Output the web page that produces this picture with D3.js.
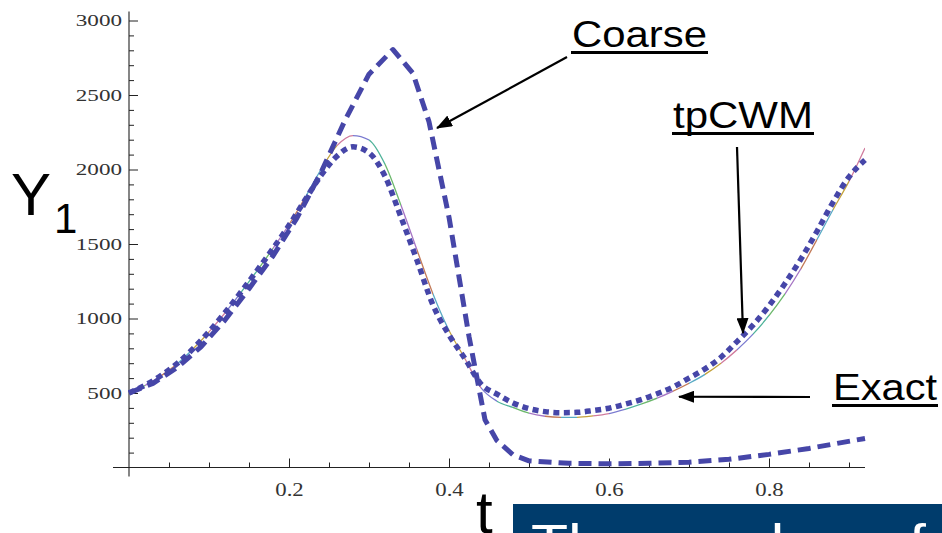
<!DOCTYPE html>
<html>
<head>
<meta charset="utf-8">
<script src="https://cdn.jsdelivr.net/npm/d3@7"></script>
<style>
  html, body { margin: 0; padding: 0; background: #fff; overflow: hidden; }
  svg { display: block; }
</style>
</head>
<body>
<svg id="chart" width="942" height="533"></svg>
<script>
// Sample times for the smooth solutions
const tGrid = [0.00,0.02,0.04,0.06,0.08,0.10,0.12,0.14,0.16,0.18,0.20,0.22,0.24,0.26,0.28,0.30,0.32,0.34,0.36,0.38,0.40,0.42,0.44,0.46,0.48,0.50,0.52,0.54,0.56,0.58,0.60,0.62,0.64,0.66,0.68,0.70,0.72,0.74,0.76,0.78,0.80,0.82,0.84,0.86,0.88,0.90,0.92];

// Exact solution Y1(t)
const exactY = [500,550,615,695,795,910,1037,1175,1320,1470,1630,1810,2000,2160,2228,2198,2035,1760,1460,1165,920,730,535,445,403,365,344,337,337,346,362,390,425,465,512,565,625,700,790,895,1020,1165,1335,1530,1730,1920,2144];

// tpCWM approximation
const tpcwmY = [500,552,617,697,797,912,1040,1178,1322,1470,1625,1795,1960,2090,2152,2112,1955,1680,1390,1090,890,730,560,492,433,395,375,368,370,382,398,425,455,495,540,600,662,740,845,955,1085,1235,1400,1585,1780,1950,2064];

// Coarse solution, at its own (uneven) time steps
const coarseT = [0.00,0.03,0.06,0.09,0.12,0.15,0.18,0.21,0.24,0.27,0.30,0.33,0.355,0.375,0.40,0.425,0.445,0.46,0.48,0.50,0.55,0.60,0.65,0.70,0.75,0.80,0.85,0.92];
const coarseY = [500,565,670,810,990,1200,1420,1675,1980,2330,2640,2805,2645,2320,1680,880,320,180,85,45,28,25,28,35,55,88,128,195];

// Axis ticks
const xMajor = [0.2,0.4,0.6,0.8];
const xMinor = [0.05,0.1,0.15,0.25,0.3,0.35,0.45,0.5,0.55,0.65,0.7,0.75,0.85,0.9];
const yMajor = [500,1000,1500,2000,2500,3000];
const yMinor = [100,200,300,400,600,700,800,900,1100,1200,1300,1400,1600,1700,1800,1900,2100,2200,2300,2400,2600,2700,2800,2900];

// Colours of the successive pieces of the exact curve
const pieceColors = ["#6cb86c","#a675c4","#c27a58","#58aac4","#c4a23c","#d07a9c","#7a7ad0","#4fb39a"];

// Annotations: label, arrow tip (t, Y1)
const labels = ["Coarse","tpCWM","Exact"];
const arrowTips = [[0.385,2278],[0.7675,902],[0.6875,475]];

const blue = "#4646a8";
const svg = d3.select("#chart");

const x = d3.scaleLinear().domain([0, 0.92]).range([129, 865]);
const y = d3.scaleLinear().domain([0, 3000]).range([467.5, 20.5]);

// ---- axes ----
const axisG = svg.append("g").attr("class","axes");
// axis lines, crossing at the origin and slightly overshooting it
axisG.append("line")
  .attr("x1", x(-0.02)).attr("x2", x(0.92))
  .attr("y1", y(0)).attr("y2", y(0))
  .attr("stroke","#222").attr("stroke-width",1.1);
axisG.append("line")
  .attr("x1", x(0)).attr("x2", x(0))
  .attr("y1", y(-60)).attr("y2", y(3060))
  .attr("stroke","#222").attr("stroke-width",1.1);

const xAxisMajor = d3.axisBottom(x).tickValues(xMajor).tickSize(-9).tickPadding(15)
  .tickFormat(d3.format(".1f"));
const xAxisMinor = d3.axisBottom(x).tickValues(xMinor).tickSize(-5).tickFormat("");
const yAxisMajor = d3.axisLeft(y).tickValues(yMajor).tickSize(-9).tickPadding(7)
  .tickFormat(d3.format("d"));
const yAxisMinor = d3.axisLeft(y).tickValues(yMinor).tickSize(-5).tickFormat("");

function styleAxis(g) {
  g.select(".domain").remove();
  g.selectAll(".tick line").attr("stroke","#222").attr("stroke-width",1);
  g.selectAll(".tick text")
    .attr("fill","#333")
    .style("font-family","'Liberation Serif', 'Times New Roman', serif");
}

const gx = axisG.append("g").attr("transform",`translate(0,${y(0)})`).call(xAxisMajor).call(styleAxis);
gx.selectAll(".tick text").style("font-size","19px").attr("transform","scale(1.2,1)");
axisG.append("g").attr("transform",`translate(0,${y(0)})`).call(xAxisMinor).call(styleAxis);

const gy = axisG.append("g").attr("transform",`translate(${x(0)},0)`).call(yAxisMajor).call(styleAxis);
gy.selectAll(".tick text").style("font-size","17px")
  .attr("x", -7/1.36).attr("transform","scale(1.36,1)");
axisG.append("g").attr("transform",`translate(${x(0)},0)`).call(yAxisMinor).call(styleAxis);

// ---- curves ----
const exactData = tGrid.map((t,i) => [t, exactY[i]]);
const tpcwmData = tGrid.map((t,i) => [t, tpcwmY[i]]);
const coarseData = coarseT.map((t,i) => [t, coarseY[i]]);

const smooth = d3.line().x(d => x(d[0])).y(d => y(d[1])).curve(d3.curveMonotoneX);
const poly = d3.line().x(d => x(d[0])).y(d => y(d[1])).curve(d3.curveLinear);

// exact curve: thin line drawn piece by piece in cycling colours
const defs = svg.append("defs");
const exactG = svg.append("g");
for (let i = 0; i < tGrid.length - 1; i++) {
  const id = "piece" + i;
  defs.append("clipPath").attr("id", id).append("rect")
    .attr("x", x(tGrid[i])).attr("width", x(tGrid[i+1]) - x(tGrid[i]))
    .attr("y", 0).attr("height", 533);
  exactG.append("path")
    .attr("d", smooth(exactData))
    .attr("clip-path", `url(#${id})`)
    .attr("fill","none")
    .attr("stroke", pieceColors[i % pieceColors.length])
    .attr("stroke-width", 1.3);
}

// coarse: long dashes
svg.append("path")
  .attr("d", poly(coarseData))
  .attr("fill","none").attr("stroke", blue)
  .attr("stroke-width", 5).attr("stroke-dasharray","13,7")
  .attr("stroke-linejoin","round");

// tpCWM: short dashes
svg.append("path")
  .attr("d", smooth(tpcwmData))
  .attr("fill","none").attr("stroke", blue)
  .attr("stroke-width", 5.5).attr("stroke-dasharray","6,4.5");

// ---- axis titles ----
const sans = "'Liberation Sans', Arial, Helvetica, sans-serif";
svg.append("text").attr("x", 11).attr("y", 215)
  .style("font-family", sans).style("font-size","60px").attr("fill","#000").text("Y");
svg.append("text").attr("x", 54).attr("y", 233)
  .style("font-family", sans).style("font-size","42px").attr("fill","#000").text("1");
svg.append("text").attr("x", 476).attr("y", 533)
  .style("font-family", sans).style("font-size","60px").attr("fill","#000").text("t");

// ---- annotations ----
defs.append("marker").attr("id","head")
  .attr("viewBox","0 0 16 12").attr("refX",15).attr("refY",6)
  .attr("markerWidth",16).attr("markerHeight",12)
  .attr("markerUnits","userSpaceOnUse").attr("orient","auto")
  .append("path").attr("d","M0,0 L16,6 L0,12 Z").attr("fill","#000");

const labelBoxes = [
  {x: 572, base: 47, len: 135, from: [567, 57]},
  {x: 673, base: 128, len: 140, from: [737, 147]},
  {x: 833, base: 400, len: 104, from: [810, 397]}
];
labels.forEach((name, i) => {
  const b = labelBoxes[i];
  svg.append("text").attr("x", b.x).attr("y", b.base)
    .attr("textLength", b.len).attr("lengthAdjust","spacingAndGlyphs")
    .style("font-family", sans).style("font-size","37px").attr("fill","#000").text(name);
  svg.append("line").attr("x1", b.x - 1).attr("x2", b.x + b.len + 1)
    .attr("y1", b.base + 5.5).attr("y2", b.base + 5.5)
    .attr("stroke","#000").attr("stroke-width",3);
  const tip = arrowTips[i];
  svg.append("line")
    .attr("x1", b.from[0]).attr("y1", b.from[1])
    .attr("x2", x(tip[0])).attr("y2", y(tip[1]))
    .attr("stroke","#000").attr("stroke-width",2.2)
    .attr("marker-end","url(#head)");
});

// ---- caption box at the lower right ----
svg.append("rect").attr("x", 513).attr("y", 504).attr("width", 429).attr("height", 29)
  .attr("fill","#003c6c");
svg.append("text").attr("x", 531).attr("y", 561)
  .attr("textLength", 395).attr("lengthAdjust","spacingAndGlyphs")
  .style("font-family", sans).style("font-size","52px").attr("fill","#fff")
  .text("The number of");
</script>
</body>
</html>
